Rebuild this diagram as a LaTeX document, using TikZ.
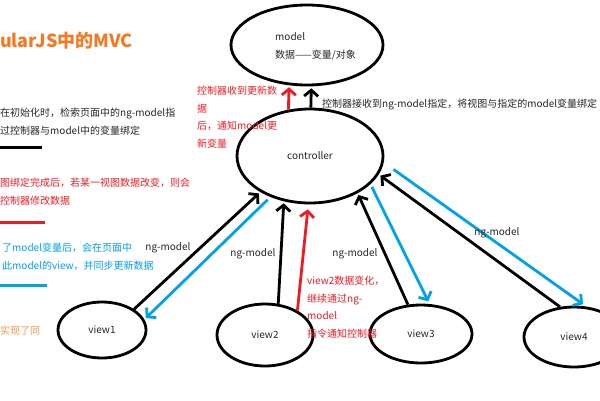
\documentclass[tikz,border=0pt]{standalone}
\usepackage{fontspec}
\setmainfont{Noto Sans CJK SC}
\usetikzlibrary{positioning,arrows.meta,shapes.geometric}
\definecolor{mvred}{HTML}{ED1C24}
\definecolor{mvblue}{HTML}{00A2E8}
\definecolor{mvorange}{HTML}{F47920}
\definecolor{mvlight}{HTML}{F79646}
\definecolor{mvink}{HTML}{262626}
\newcommand{\mvfont}{\fontsize{10}{17.5}\selectfont}
\tikzset{
  mv ell/.style={ellipse, draw=black, line width=2.8pt, inner sep=0pt, font=\mvfont, text=mvink},
  mv arr/.style={-{Straight Barb[length=6pt,width=14pt]}, line width=2.8pt, shorten >=2pt},
  mv txt/.style={font=\mvfont, align=left, anchor=base west, inner sep=0pt, text=mvink},
  mv lbl/.style={font=\mvfont, inner sep=0pt, text=mvink},
  mv key/.style={line width=3pt},
  mv title/.style={font=\fontsize{18}{20}\selectfont\bfseries, text=mvorange, anchor=base west, inner sep=0pt},
}
\begin{document}
\begin{tikzpicture}[x=1pt, y=-1pt]
  \useasboundingbox (0,0) rectangle (600,400);
  % left column: title and legend (base = last line)
  \node[mv title] (title) at (0,47) {ularJS中的MVC};
  \node[mv txt] (initnote) at (0,134) {在初始化时，检索页面中的ng-model指\\过控制器与model中的变量绑定};
  \draw[mv key, black] (0,147) -- (42,147);
  \node[mv txt, text=mvred] (chgnote) at (0,204) {图绑定完成后，若某一视图数据改变，则会\\控制器修改数据};
  \draw[mv key, mvred] (0,222) -- (45,222);
  \node[mv txt, text=mvblue] (updnote) at (2,269) {了model变量后，会在页面中\\此model的view，并同步更新数据};
  \draw[mv key, mvblue] (0,285) -- (47,285);
  \node[mv txt, text=mvlight] (samenote) at (0,334) {实现了同};
  % model and controller
  \node[mv ell, minimum width=152pt, minimum height=80pt] (model) at (307,45) {};
  \node[mv txt, font=\fontsize{10}{18}\selectfont] (modeltxt) at (275,58) {model\\数据——变量/对象};
  \node[mv ell, minimum width=146pt, minimum height=94pt] (ctrl) at (310,156) {controller};
  \foreach \k/\px/\py/\w/\h in {1/102/330/88/56, 2/265/335/96/62, 3/421/334/102/58, 4/574/337/100/60}
    \node[mv ell, minimum width=\w pt, minimum height=\h pt] (v\k) at (\px,\py) {view\k};
  % connectors
  \draw[mv arr, mvred] (ctrl.115) -- (model.246);
  \draw[mv arr] (ctrl.89) -- (model.276);
  \draw[mv arr] (v1.33) -- (ctrl.216);
  \draw[mv arr, mvblue, shorten <=4pt] (ctrl.226) -- (v1.14);
  \draw[mv arr] (v2.67) -- (ctrl.240);
  \draw[mv arr, mvred, shorten >=5pt] (v2.37) -- (ctrl.268);
  \draw[mv arr] (v3.114) -- (ctrl.322);
  \draw[mv arr, mvblue, shorten <=3pt, shorten >=3pt] (ctrl.335) -- (v3.74);
  \draw[mv arr] (v4.115) -- (ctrl.345);
  \draw[mv arr, mvblue, shorten <=12pt, shorten >=4pt] (ctrl.355) -- (v4.68);
  % labels
  \foreach \nm/\px/\py in {ngA/168/248, ngB/253/254, ngC/355/254, ngD/497/233}
    \node[mv lbl] (\nm) at (\px,\py) {ng-model};
  \node[mv txt, text=mvred] (ctrlnote) at (197,147) {控制器收到更新数\\据\\后，通知model更\\新变量};
  \node[mv txt] (bindnote) at (322,107) {控制器接收到ng-model指定，将视图与指定的model变量绑定};
  \node[mv txt, text=mvred] (v2note) at (307,337) {view2数据变化，\\继续通过ng-\\model\\指令通知控制器};
\end{tikzpicture}
\end{document}
